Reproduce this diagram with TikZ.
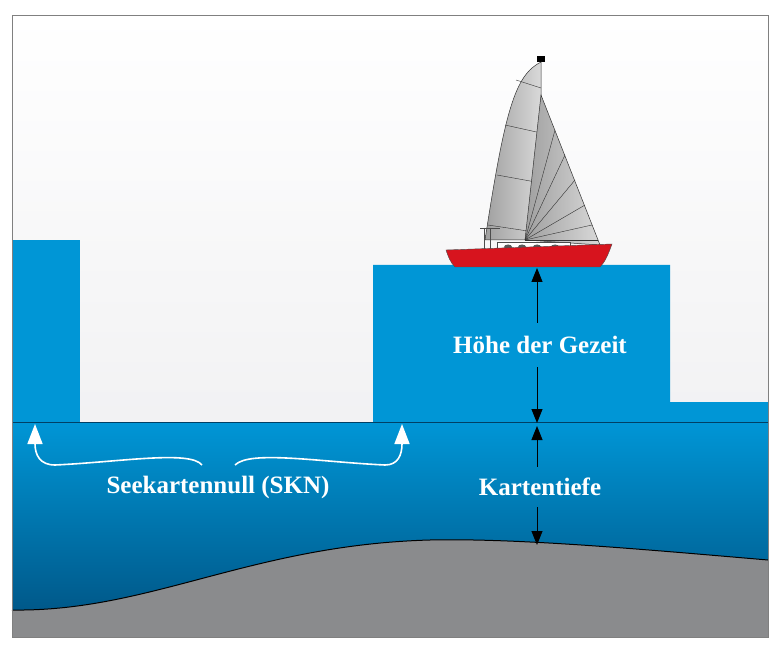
\documentclass[tikz,border=0pt]{standalone}
\usepackage{fontspec}
\setmainfont{Liberation Serif}
\usetikzlibrary{arrows.meta}
\definecolor{seablue}{HTML}{0096D6}
\definecolor{deepblue}{HTML}{00507F}
\definecolor{bedgray}{HTML}{8A8B8D}
\definecolor{hullred}{HTML}{D7141E}
\tikzset{
	label text/.style={text=white,font=\bfseries\fontsize{25}{28}\selectfont},
	depth arrow/.style={-{Triangle[length=14pt,width=11pt]},line width=1pt},
	null arrow/.style={-{Triangle[length=20pt,width=15pt]},white,line width=1.6pt},
	sail/.style={draw=black!80,line width=0.5pt,left color=gray!75,right color=gray!30}
}
\begin{document}
\begin{tikzpicture}[x=1pt,y=-1pt]
\useasboundingbox (0,0) rectangle (782,652);
% sky
\shade[top color=white,bottom color=blue!6!gray!10] (12,15) rectangle (768,422);
% water above chart datum
\fill[seablue] (12,240) rectangle (80,422);
\fill[seablue] (373,265) -- (670,265) -- (670,402) -- (768,402) -- (768,422) -- (373,422) -- cycle;
% sea
\shade[top color=seablue,bottom color=deepblue] (12,422) rectangle (768,637);
% sea bed
\fill[bedgray] (12,610) .. controls (150,612) and (250,545) .. (430,540)
	.. controls (520,538) and (650,550) .. (768,560) -- (768,637) -- (12,637) -- cycle;
\draw[line width=1pt] (12,610) .. controls (150,612) and (250,545) .. (430,540)
	.. controls (520,538) and (650,550) .. (768,560);
\draw[deepblue!80!black,line width=0.8pt] (12,422) -- (768,422);
\draw[gray] (12,15) rectangle (768,637);

% boat
\fill[black] (537,56) rectangle (545,62);
\draw[sail] (541,62) .. controls (515,75) and (505,110) .. (485,240) -- (541,240) -- cycle;
\foreach \y/\xa in {80/516,125/505,175/497,225/488}
	\draw[black!80,line width=0.4pt] (\xa,\y) -- (541,\y+8);
\draw[sail] (541,95) -- (600,245) -- (525,240) -- cycle;
\foreach \xa/\ya in {555/130,565/155,575/180,585/205,592/225,598/240}
	\draw[black!80,line width=0.4pt] (525,240) -- (\xa,\ya);
\draw[black!70] (480,228) -- (500,228) (484,228) -- (484,250) (490,228) -- (490,250);
\draw[fill=white,draw=black!70] (497,242) rectangle (570,252);
\foreach \xb in {508,522,537,555}
	\fill[gray!70!black] (\xb,247) ellipse (4pt and 2.5pt);
\draw[fill=hullred,draw=black!70] (446,250) -- (612,244) .. controls (608,255) and (605,262) .. (600,267)
	-- (455,267) .. controls (450,262) and (448,256) .. (446,250) -- cycle;

% labels and arrows
\node[label text] (tide) at (540,345) {Höhe der Gezeit};
\node[label text] (depth) at (540,487) {Kartentiefe};
\node[label text] (skn) at (218,487) {Seekartennull (SKN)};
\coordinate (surface) at (537,268);
\coordinate (datumtop) at (537,423);
\coordinate (datumbot) at (537,426);
\coordinate (bed) at (537,545);
\draw[depth arrow] (tide.north -| surface) ++(0,-10) -- (surface);
\draw[depth arrow] (tide.south -| surface) ++(0,10) -- (datumtop);
\draw[depth arrow] (depth.north -| datumbot) ++(0,-8) -- (datumbot);
\draw[depth arrow] (depth.south -| bed) ++(0,8) -- (bed);

\coordinate (leftnull) at (35,424);
\coordinate (rightnull) at (402,424);
\draw[null arrow] (202,465) .. controls (190,450) and (120,462) .. (55,465)
	.. controls (40,465) and (35,455) .. (leftnull);
\draw[null arrow] (235,465) .. controls (250,450) and (320,462) .. (385,465)
	.. controls (398,465) and (402,455) .. (rightnull);
\end{tikzpicture}
\end{document}
